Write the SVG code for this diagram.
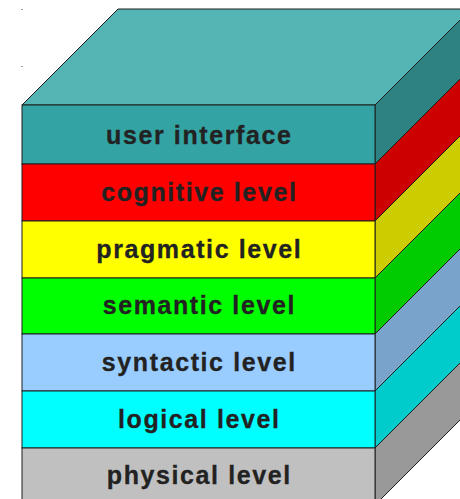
<svg xmlns="http://www.w3.org/2000/svg" width="460" height="499" viewBox="0 0 460 499">
<style>
.e{stroke:#1e1e1e;stroke-width:1;stroke-linejoin:miter}
.t{font-family:"Liberation Sans",Arial,sans-serif;font-weight:bold;font-size:25px;letter-spacing:1.6px;fill:#222;text-anchor:middle;stroke:#222;stroke-width:0.3}
</style>
<rect width="460" height="499" fill="#fff"/>
<rect x="21.5" y="9" width="1" height="1" fill="#444"/>
<rect x="21.5" y="66" width="1" height="1" fill="#444"/>
<g id="top"><polygon class="e" fill="#55b5b5" points="22,105 118,9 471,9 375,105"/></g>
<g id="user-interface">
<polygon class="e" fill="#2e8282" points="375,105 471,9 471,68 375,164"/>
<rect class="e" fill="#33a3a3" x="22" y="105" width="353" height="59"/>
<text class="t" x="199.3" y="144">user interface</text></g>
<g id="cognitive-level">
<polygon class="e" fill="#cc0000" points="375,164 471,68 471,125 375,221"/>
<rect class="e" fill="#ff0000" x="22" y="164" width="353" height="57"/>
<text class="t" x="199.3" y="201">cognitive level</text></g>
<g id="pragmatic-level">
<polygon class="e" fill="#cccc00" points="375,221 471,125 471,182 375,278"/>
<rect class="e" fill="#ffff00" x="22" y="221" width="353" height="57"/>
<text class="t" x="199.3" y="257.5">pragmatic level</text></g>
<g id="semantic-level">
<polygon class="e" fill="#00cc00" points="375,278 471,182 471,238 375,334"/>
<rect class="e" fill="#00ff00" x="22" y="278" width="353" height="56"/>
<text class="t" x="199.3" y="314">semantic level</text></g>
<g id="syntactic-level">
<polygon class="e" fill="#7aa3cc" points="375,334 471,238 471,295 375,391"/>
<rect class="e" fill="#99ccff" x="22" y="334" width="353" height="57"/>
<text class="t" x="199.3" y="371.3">syntactic level</text></g>
<g id="logical-level">
<polygon class="e" fill="#00cccc" points="375,391 471,295 471,352 375,448"/>
<rect class="e" fill="#00ffff" x="22" y="391" width="353" height="57"/>
<text class="t" x="199.3" y="428.3">logical level</text></g>
<g id="physical-level">
<polygon class="e" fill="#999999" points="375,448 471,352 471,409 375,505"/>
<rect class="e" fill="#c0c0c0" x="22" y="448" width="353" height="57"/>
<text class="t" x="199.3" y="484.3">physical level</text></g>
<g id="connectors"></g>
</svg>
